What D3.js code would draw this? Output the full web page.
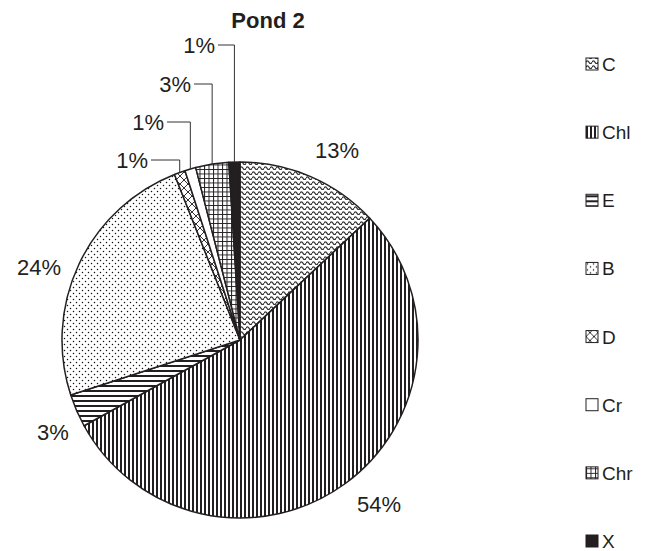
<!DOCTYPE html>
<html>
<head>
<meta charset="utf-8">
<script src="https://cdn.jsdelivr.net/npm/d3@7"></script>
<style>
  html, body { margin: 0; padding: 0; background: #fff; }
  svg { display: block; font-family: "Liberation Sans", Arial, sans-serif; }
</style>
</head>
<body>
<svg id="chart" width="649" height="551"></svg>
<script>
// Share of each group in Pond 2 (percent), clockwise from 12 o'clock
const categories = ["C", "Chl", "E", "B", "D", "Cr", "Chr", "X"];
const values = [13, 54, 3, 24, 1, 1, 3, 1];
const title = "Pond 2";

// Layout: pie geometry, label placement (text anchor point) and legend
const cx = 240, cy = 340, radius = 178;
const labelLayout = {
  C:   { x: 337, y: 158, anchor: "middle" },
  Chl: { x: 379, y: 512, anchor: "middle" },
  E:   { x: 53,  y: 440, anchor: "middle" },
  B:   { x: 39,  y: 275, anchor: "middle" },
  D:   { x: 148, y: 168, anchor: "end", leader: true },
  Cr:  { x: 164, y: 130, anchor: "end", leader: true },
  Chr: { x: 191, y: 92,  anchor: "end", leader: true },
  X:   { x: 215, y: 53,  anchor: "end", leader: true }
};
const ink = "#231f20";

const svg = d3.select("#chart");
const defs = svg.append("defs");

// Fill patterns, one per category
function pattern(id, w, h) {
  return defs.append("pattern")
    .attr("id", id)
    .attr("patternUnits", "userSpaceOnUse")
    .attr("width", w).attr("height", h);
}
// C: wavy horizontal lines
{
  const p = pattern("pat-C", 6, 5);
  p.append("rect").attr("width", 6).attr("height", 5).attr("fill", "#fff");
  p.append("path").attr("d", "M0,3.3 Q1.5,0.5 3,3.3 T6,3.3")
    .attr("fill", "none").attr("stroke", "#333").attr("stroke-width", 1.3);
}
// Chl: vertical stripes
{
  const p = pattern("pat-Chl", 4, 10);
  p.append("rect").attr("width", 4).attr("height", 10).attr("fill", "#fff");
  p.append("rect").attr("x", 0).attr("width", 2).attr("height", 10).attr("fill", ink);
}
// E: horizontal stripes
{
  const p = pattern("pat-E", 10, 5);
  p.append("rect").attr("width", 10).attr("height", 5).attr("fill", "#fff");
  p.append("rect").attr("y", 0).attr("width", 10).attr("height", 2).attr("fill", ink);
}
// B: staggered dots
{
  const p = pattern("pat-B", 6, 6);
  p.append("rect").attr("width", 6).attr("height", 6).attr("fill", "#fff");
  p.append("circle").attr("cx", 1.5).attr("cy", 1.5).attr("r", 0.75).attr("fill", "#111");
  p.append("circle").attr("cx", 4.5).attr("cy", 4.5).attr("r", 0.75).attr("fill", "#111");
}
// D: diagonal cross-hatch
{
  const p = pattern("pat-D", 8, 8);
  p.append("rect").attr("width", 8).attr("height", 8).attr("fill", "#fff");
  p.append("path").attr("d", "M0,0 L8,8 M8,0 L0,8")
    .attr("stroke", "#333").attr("stroke-width", 1);
}
// Cr: plain white
{
  const p = pattern("pat-Cr", 4, 4);
  p.append("rect").attr("width", 4).attr("height", 4).attr("fill", "#fff");
}
// Chr: square grid
{
  const p = pattern("pat-Chr", 4.5, 4.5);
  p.append("rect").attr("width", 4.5).attr("height", 4.5).attr("fill", "#fff");
  p.append("path").attr("d", "M0,0.5 H4.5 M0.5,0 V4.5")
    .attr("stroke", ink).attr("stroke-width", 1);
}
// X: solid
{
  const p = pattern("pat-X", 4, 4);
  p.append("rect").attr("width", 4).attr("height", 4).attr("fill", ink);
}

const data = categories.map((c, i) => ({ cat: c, value: values[i] }));

const pie = d3.pie().sort(null).value(d => d.value)
  .startAngle(0).endAngle(2 * Math.PI);
const arcs = pie(data);
const arc = d3.arc().innerRadius(0).outerRadius(radius);

const g = svg.append("g").attr("transform", `translate(${cx},${cy})`);

g.selectAll("path.slice")
  .data(arcs)
  .join("path")
  .attr("class", "slice")
  .attr("d", arc)
  .attr("fill", d => `url(#pat-${d.data.cat})`)
  .attr("stroke", ink)
  .attr("stroke-width", 1.5)
  .attr("stroke-linejoin", "round");

// Percentage labels, with elbow leader lines for the thin slices
const fmt = v => `${v}%`;
arcs.forEach(d => {
  const L = labelLayout[d.data.cat];
  svg.append("text")
    .attr("x", L.x).attr("y", L.y)
    .attr("text-anchor", L.anchor)
    .attr("font-size", 22)
    .attr("fill", ink)
    .text(fmt(d.data.value));
  if (L.leader) {
    const mid = (d.startAngle + d.endAngle) / 2;
    const ax = cx + radius * Math.sin(mid);
    const ay = cy - radius * Math.cos(mid);
    const ly = L.y - 8;
    svg.append("path")
      .attr("d", `M${L.x + 3},${ly} H${ax} V${ay}`)
      .attr("fill", "none")
      .attr("stroke", "#333")
      .attr("stroke-width", 1);
  }
});

// Title
svg.append("text")
  .attr("x", 268).attr("y", 28)
  .attr("text-anchor", "middle")
  .attr("font-size", 22)
  .attr("font-weight", "bold")
  .attr("fill", ink)
  .text(title);

// Legend
const legendY = d3.scalePoint().domain(categories).range([64, 541]);
const legend = svg.append("g").selectAll("g")
  .data(categories)
  .join("g")
  .attr("transform", c => `translate(586,${legendY(c)})`);
legend.append("rect")
  .attr("x", 0).attr("y", -6)
  .attr("width", 12).attr("height", 12)
  .attr("fill", c => `url(#pat-${c})`)
  .attr("stroke", ink)
  .attr("stroke-width", 1);
legend.append("text")
  .attr("x", 16).attr("y", 7)
  .attr("font-size", 19)
  .attr("fill", ink)
  .text(c => c);
</script>
</body>
</html>
